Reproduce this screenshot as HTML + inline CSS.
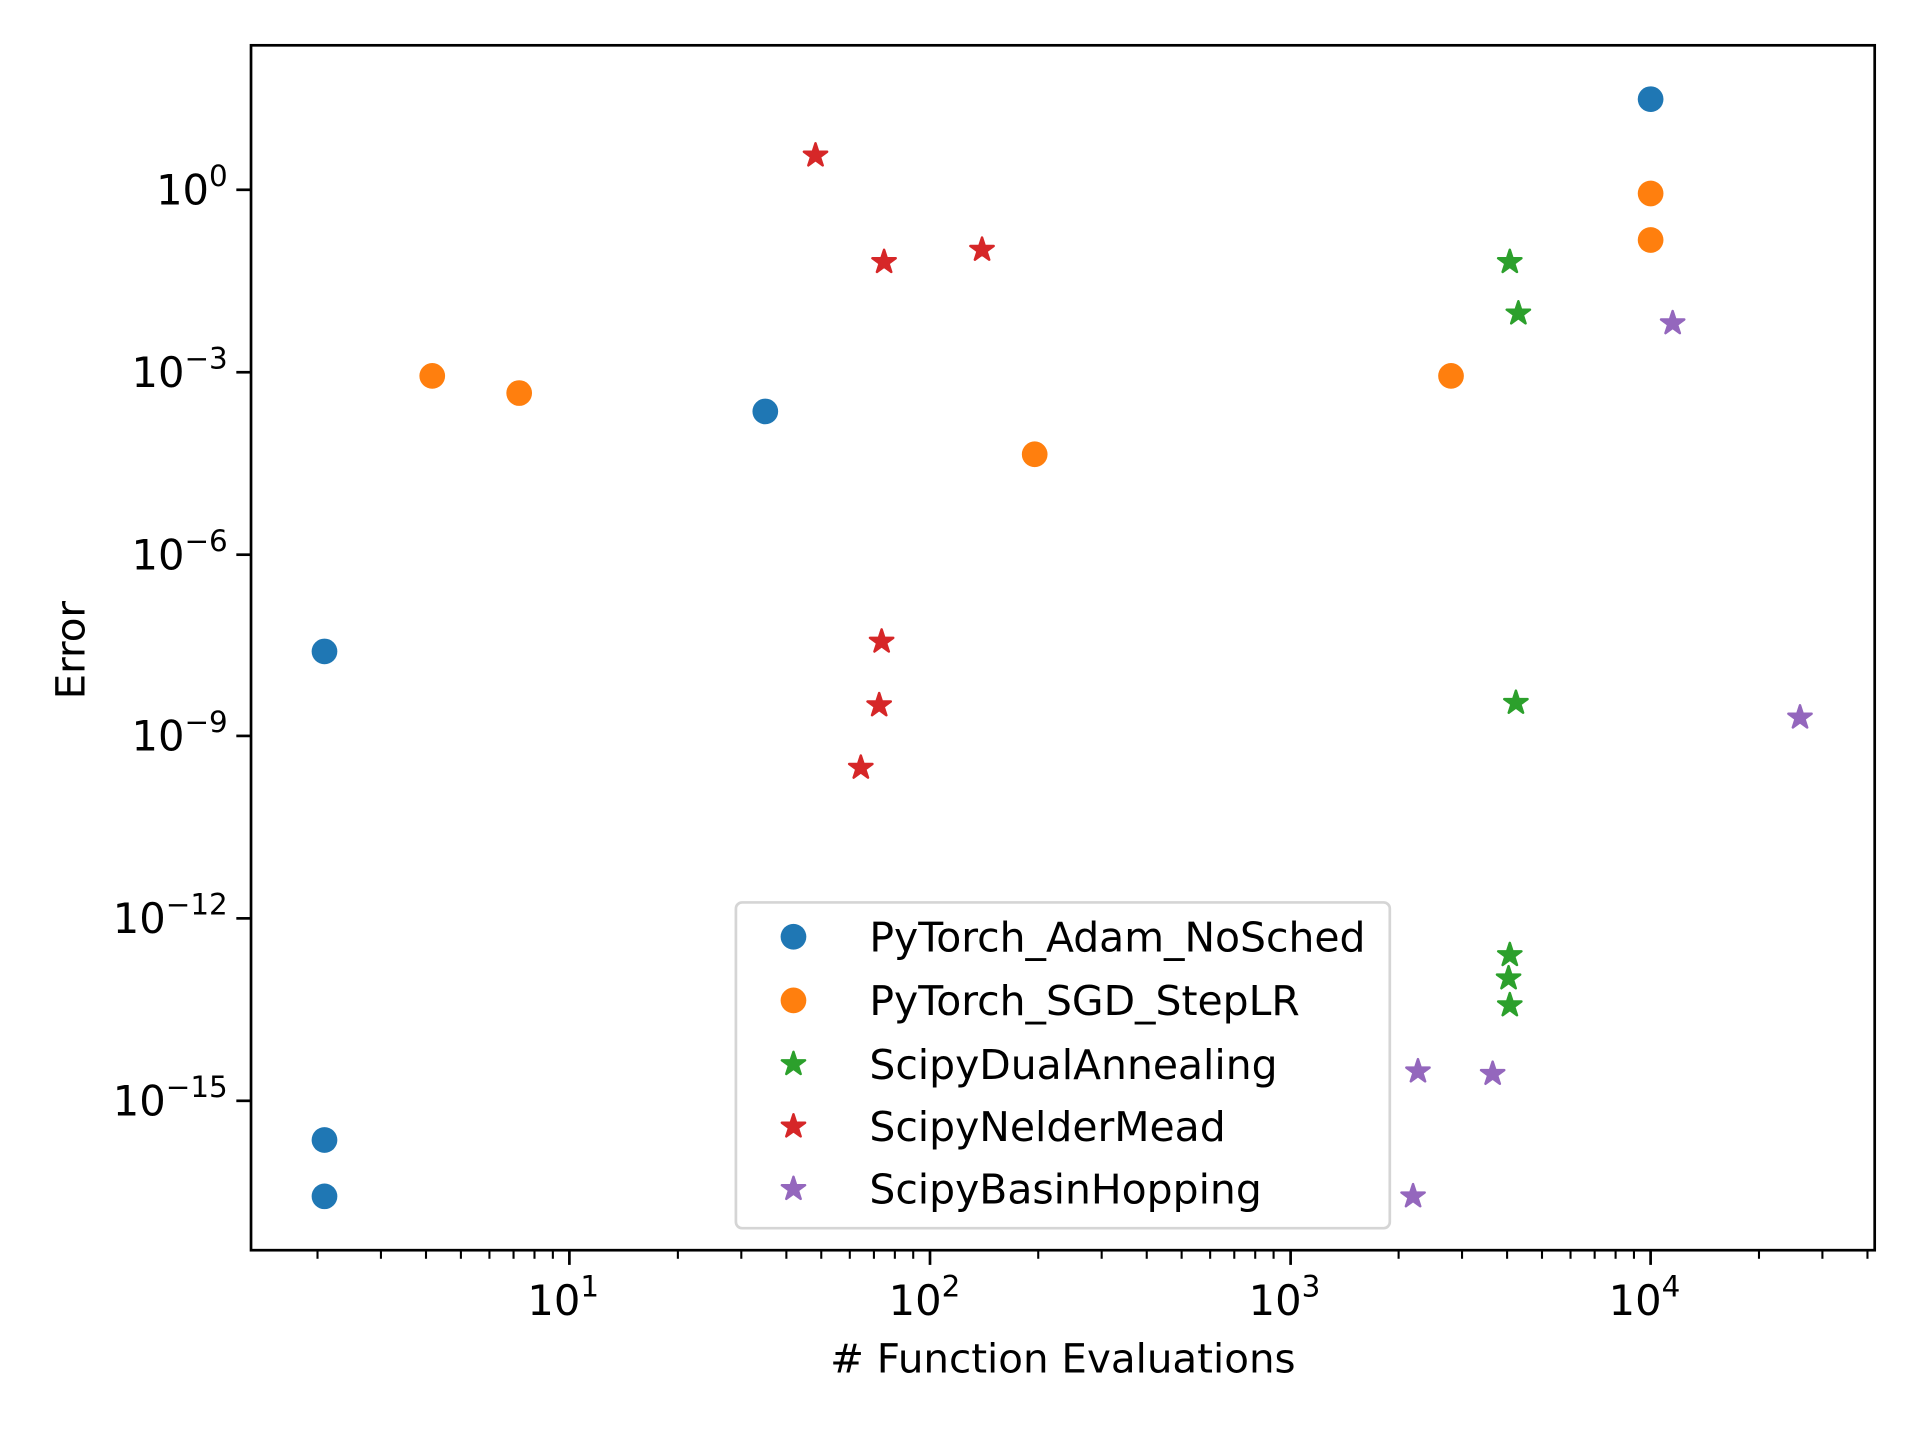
<!DOCTYPE html>
<html><head><meta charset="utf-8"><style>html,body{margin:0;padding:0;background:#fff}svg{display:block}</style></head>
<body>
<svg width="1920" height="1440" viewBox="0 0 1568 1176" preserveAspectRatio="none" xmlns="http://www.w3.org/2000/svg" font-family="'DejaVu Sans','Liberation Sans',sans-serif">
<defs>
<path id="st" stroke-width="2" stroke-linejoin="round" d="M0,-10 L2.245,-3.09 L9.511,-3.09 L3.633,1.18 L5.878,8.09 L0,3.82 L-5.878,8.09 L-3.633,1.18 L-9.511,-3.09 L-2.245,-3.09 Z"/>
</defs>
<rect width="1568" height="1176" fill="#fff"/>
<g fill="#1f77b4">
<circle cx="1348" cy="81" r="10.5"/><circle cx="625" cy="336" r="10.5"/><circle cx="265" cy="532" r="10.5"/><circle cx="265" cy="931" r="10.5"/><circle cx="265" cy="977" r="10.5"/>
</g>
<g fill="#ff7f0e">
<circle cx="1348" cy="158" r="10.5"/><circle cx="1348" cy="196" r="10.5"/><circle cx="353" cy="307" r="10.5"/><circle cx="424" cy="321" r="10.5"/><circle cx="1185" cy="307" r="10.5"/><circle cx="845" cy="371" r="10.5"/>
</g>
<g fill="#2ca02c" stroke="#2ca02c">
<use href="#st" x="1233" y="214"/><use href="#st" x="1240" y="256"/><use href="#st" x="1238" y="574"/><use href="#st" x="1233" y="780"/><use href="#st" x="1232" y="799"/><use href="#st" x="1233" y="821"/>
</g>
<g fill="#d62728" stroke="#d62728">
<use href="#st" x="666" y="127"/><use href="#st" x="722" y="214"/><use href="#st" x="802" y="204"/><use href="#st" x="720" y="524"/><use href="#st" x="718" y="576"/><use href="#st" x="703" y="627"/>
</g>
<g fill="#9467bd" stroke="#9467bd">
<use href="#st" x="1366" y="264"/><use href="#st" x="1470" y="586"/><use href="#st" x="1158" y="875"/><use href="#st" x="1219" y="877"/><use href="#st" x="1154" y="977"/>
</g>
<rect x="601" y="737" width="534" height="266" rx="5" fill="#fff" fill-opacity="0.8" stroke="#d5d5d5" stroke-width="2.2"/>
<circle cx="648" cy="765" r="10.5" fill="#1f77b4"/>
<circle cx="648" cy="817" r="10.5" fill="#ff7f0e"/>
<use href="#st" x="648" y="869" fill="#2ca02c" stroke="#2ca02c"/>
<use href="#st" x="648" y="920" fill="#d62728" stroke="#d62728"/>
<use href="#st" x="648" y="971" fill="#9467bd" stroke="#9467bd"/>
<g font-size="33.4" fill="#000">
<text x="710" y="777">PyTorch_Adam_NoSched</text>
<text x="710" y="829">PyTorch_SGD_StepLR</text>
<text x="710" y="881">ScipyDualAnnealing</text>
<text x="710" y="932">ScipyNelderMead</text>
<text x="710" y="983">ScipyBasinHopping</text>
</g>
<rect x="205" y="37" width="1326" height="984" fill="none" stroke="#000" stroke-width="2.2"/>
<g stroke="#000" stroke-width="2.2">
<line x1="465" y1="1021" x2="465" y2="1033"/><line x1="759.5" y1="1021" x2="759.5" y2="1033"/><line x1="1054" y1="1021" x2="1054" y2="1033"/><line x1="1348" y1="1021" x2="1348" y2="1033"/>
<line x1="193" y1="155" x2="205" y2="155"/><line x1="193" y1="304" x2="205" y2="304"/><line x1="193" y1="453" x2="205" y2="453"/><line x1="193" y1="601" x2="205" y2="601"/><line x1="193" y1="750" x2="205" y2="750"/><line x1="193" y1="899" x2="205" y2="899"/>
</g>
<g stroke="#000" stroke-width="1.7">
<line x1="259.3" y1="1021" x2="259.3" y2="1028"/><line x1="311.1" y1="1021" x2="311.1" y2="1028"/><line x1="347.9" y1="1021" x2="347.9" y2="1028"/><line x1="376.4" y1="1021" x2="376.4" y2="1028"/><line x1="399.7" y1="1021" x2="399.7" y2="1028"/><line x1="419.4" y1="1021" x2="419.4" y2="1028"/><line x1="436.5" y1="1021" x2="436.5" y2="1028"/><line x1="451.5" y1="1021" x2="451.5" y2="1028"/>
<line x1="553.6" y1="1021" x2="553.6" y2="1028"/><line x1="605.4" y1="1021" x2="605.4" y2="1028"/><line x1="642.2" y1="1021" x2="642.2" y2="1028"/><line x1="670.7" y1="1021" x2="670.7" y2="1028"/><line x1="694.0" y1="1021" x2="694.0" y2="1028"/><line x1="713.7" y1="1021" x2="713.7" y2="1028"/><line x1="730.8" y1="1021" x2="730.8" y2="1028"/><line x1="745.8" y1="1021" x2="745.8" y2="1028"/>
<line x1="847.9" y1="1021" x2="847.9" y2="1028"/><line x1="899.7" y1="1021" x2="899.7" y2="1028"/><line x1="936.5" y1="1021" x2="936.5" y2="1028"/><line x1="965.0" y1="1021" x2="965.0" y2="1028"/><line x1="988.3" y1="1021" x2="988.3" y2="1028"/><line x1="1008.0" y1="1021" x2="1008.0" y2="1028"/><line x1="1025.1" y1="1021" x2="1025.1" y2="1028"/><line x1="1040.1" y1="1021" x2="1040.1" y2="1028"/>
<line x1="1142.2" y1="1021" x2="1142.2" y2="1028"/><line x1="1194.0" y1="1021" x2="1194.0" y2="1028"/><line x1="1230.8" y1="1021" x2="1230.8" y2="1028"/><line x1="1259.3" y1="1021" x2="1259.3" y2="1028"/><line x1="1282.6" y1="1021" x2="1282.6" y2="1028"/><line x1="1302.3" y1="1021" x2="1302.3" y2="1028"/><line x1="1319.4" y1="1021" x2="1319.4" y2="1028"/><line x1="1334.4" y1="1021" x2="1334.4" y2="1028"/>
<line x1="1436.5" y1="1021" x2="1436.5" y2="1028"/><line x1="1488.3" y1="1021" x2="1488.3" y2="1028"/><line x1="1525.1" y1="1021" x2="1525.1" y2="1028"/>
</g>
<g font-size="34" fill="#000" text-anchor="middle">
<text x="460" y="1074">10<tspan font-size="24" dy="-15">1</tspan></text>
<text x="755" y="1074">10<tspan font-size="24" dy="-15">2</tspan></text>
<text x="1049" y="1074">10<tspan font-size="24" dy="-15">3</tspan></text>
<text x="1343" y="1074">10<tspan font-size="24" dy="-15">4</tspan></text>
</g>
<g font-size="34" fill="#000" text-anchor="end">
<text x="186" y="167">10<tspan font-size="24" dy="-15">0</tspan></text>
<text x="186" y="316">10<tspan font-size="24" dy="-15">−3</tspan></text>
<text x="186" y="465">10<tspan font-size="24" dy="-15">−6</tspan></text>
<text x="186" y="613">10<tspan font-size="24" dy="-15">−9</tspan></text>
<text x="186" y="762">10<tspan font-size="24" dy="-15">−12</tspan></text>
<text x="186" y="911">10<tspan font-size="24" dy="-15">−15</tspan></text>
</g>
<text x="868" y="1121" font-size="33" text-anchor="middle"># Function Evaluations</text>
<text transform="translate(69,531) rotate(-90)" font-size="33" text-anchor="middle">Error</text>
</svg>
</body></html>
